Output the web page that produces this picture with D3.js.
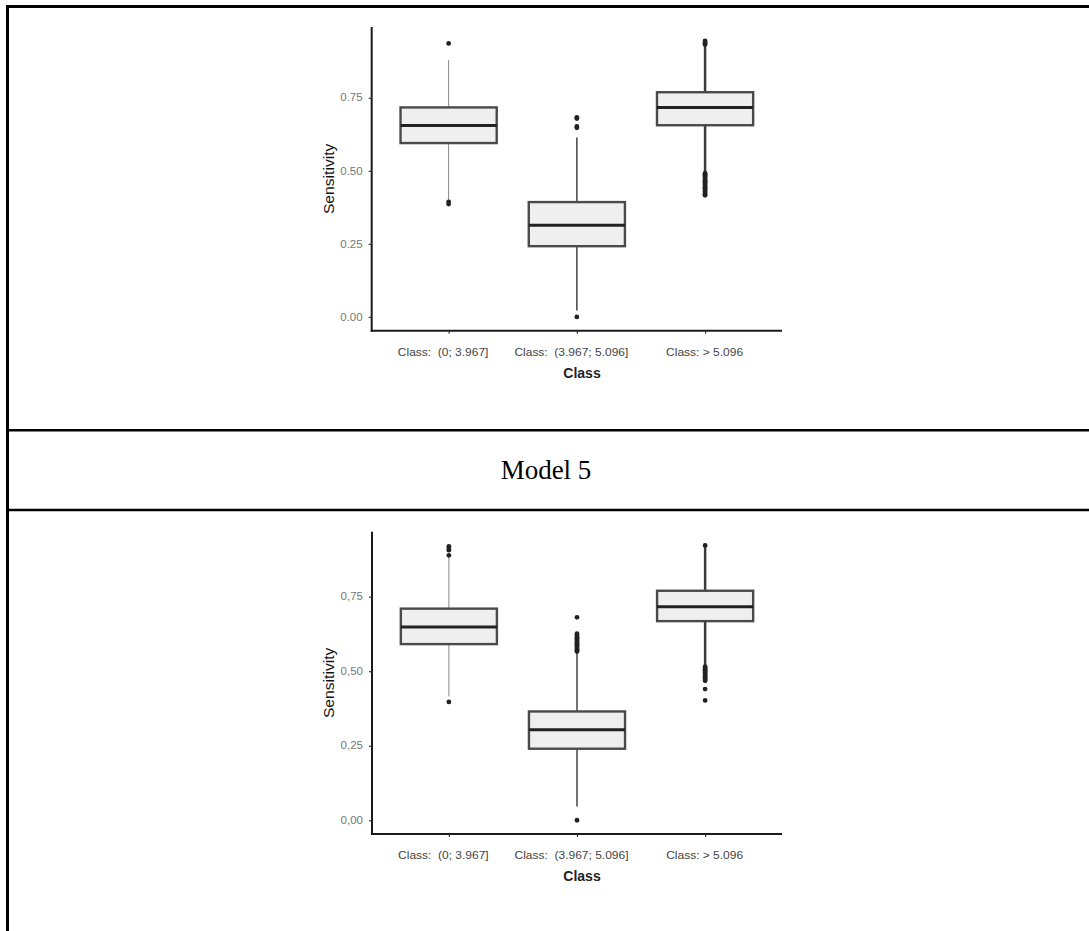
<!DOCTYPE html>
<html>
<head>
<meta charset="utf-8">
<script src="https://cdn.jsdelivr.net/npm/d3@7"></script>
<style>
  html, body { margin: 0; padding: 0; background: #fff; }
  svg { display: block; }
  text { white-space: pre; }
</style>
</head>
<body>
<svg id="chart" width="1089" height="931"></svg>
<script>
// ---------------- DATA ----------------
const categories = ["Class:  (0; 3.967]", "Class:  (3.967; 5.096]", "Class: > 5.096"];
const yTickValues = [0, 0.25, 0.5, 0.75];
const yTickLabelsTop = ["0.00", "0.25", "0.50", "0.75"];
const yTickLabelsBottom = ["0,00", "0,25", "0,50", "0,75"];
const yTitle = "Sensitivity";
const xTitle = "Class";
const sectionTitle = "Model 5";

// Top panel (first model)
const topQ1 = [0.595, 0.242, 0.656];
const topMedian = [0.655, 0.314, 0.717];
const topQ3 = [0.717, 0.393, 0.769];
const topWhiskerLow = [0.400, 0.022, 0.497];
const topWhiskerHigh = [0.879, 0.614, 0.928];
const topOutliers = [
  [0.936, 0.394, 0.386],
  [0.683, 0.679, 0.652, 0.647, 0.0],
  [0.945, 0.940, 0.935, 0.932,
   0.492, 0.488, 0.484, 0.480, 0.476, 0.472, 0.468, 0.464, 0.460, 0.456, 0.452,
   0.448, 0.444, 0.440, 0.436, 0.432, 0.428, 0.424, 0.420, 0.416]
];

// Bottom panel (Model 5)
const botQ1 = [0.591, 0.240, 0.668];
const botMedian = [0.648, 0.304, 0.716];
const botQ3 = [0.710, 0.365, 0.770];
const botWhiskerLow = [0.415, 0.046, 0.519];
const botWhiskerHigh = [0.884, 0.562, 0.917];
const botOutliers = [
  [0.919, 0.912, 0.906, 0.889, 0.397],
  [0.681, 0.626, 0.622, 0.618, 0.614, 0.610, 0.606, 0.602, 0.598, 0.594, 0.590,
   0.586, 0.582, 0.578, 0.574, 0.570, 0.566, 0.0],
  [0.922,
   0.515, 0.511, 0.507, 0.503, 0.499, 0.495, 0.491, 0.487, 0.483, 0.479, 0.475,
   0.471, 0.468, 0.440, 0.402]
];

// ---------------- DRAW ----------------
const svg = d3.select("#chart");
const W = 1089, H = 931;

// table borders
const border = svg.append("g").attr("stroke", "#000").attr("fill", "none");
border.append("line").attr("x1", 7.5).attr("x2", 7.5).attr("y1", 5).attr("y2", H).attr("stroke-width", 3);
border.append("line").attr("x1", 6).attr("x2", W).attr("y1", 6.5).attr("y2", 6.5).attr("stroke-width", 3);
border.append("line").attr("x1", 6).attr("x2", W).attr("y1", 430.3).attr("y2", 430.3).attr("stroke-width", 2.5);
border.append("line").attr("x1", 6).attr("x2", W).attr("y1", 510).attr("y2", 510).attr("stroke-width", 2.5);

svg.append("text")
  .attr("x", 546).attr("y", 470)
  .attr("text-anchor", "middle").attr("dominant-baseline", "central")
  .attr("font-family", "'Liberation Serif', 'Times New Roman', serif")
  .attr("font-size", 27).attr("fill", "#000")
  .text(sectionTitle);

const whiskerWidths = [1, 1.5, 2.5];
const whiskerColors = ["#888", "#444", "#3a3a3a"];

function drawPanel(cfg) {
  const g = svg.append("g");
  const allVals = [].concat(cfg.q1, cfg.q3, cfg.wl, cfg.wh, ...cfg.out);
  const mn = d3.min(allVals), mx = d3.max(allVals);
  const pad = (mx - mn) * 0.05;
  const y = d3.scaleLinear().domain([mn - pad, mx + pad]).range([cfg.bottom, cfg.top]);
  const x = d3.scalePoint().domain(categories).range([cfg.left, cfg.right]).padding(0.6);
  const bw = x.step() * 0.75;

  // y axis
  const yAxis = d3.axisLeft(y).tickValues(yTickValues)
    .tickFormat((d, i) => cfg.tickLabels[i]).tickSize(3).tickSizeOuter(0).tickPadding(4);
  const ya = g.append("g").attr("transform", `translate(${cfg.left},0)`).call(yAxis);
  ya.select(".domain").attr("stroke", "#1a1a1a").attr("stroke-width", 2);
  ya.selectAll(".tick line").attr("stroke", "#333").attr("stroke-width", 1.2);
  ya.selectAll(".tick text")
    .attr("font-family", "'Liberation Sans', Arial, sans-serif")
    .attr("font-size", 10).attr("fill", "#777")
    .attr("transform", function () { const xx = +d3.select(this).attr("x"); return `translate(${xx * 0.15},0) scale(1.15,1)`; });

  // x axis
  const xAxis = d3.axisBottom(x).tickSize(3).tickSizeOuter(0).tickPadding(15);
  const xa = g.append("g").attr("transform", `translate(0,${cfg.bottom})`).call(xAxis);
  xa.select(".domain").attr("stroke", "#1a1a1a").attr("stroke-width", 2);
  xa.selectAll(".tick line").attr("stroke", "#333").attr("stroke-width", 1.2);
  xa.selectAll(".tick text")
    .attr("font-family", "'Liberation Sans', Arial, sans-serif")
    .attr("font-size", 10).attr("fill", "#444")
    .attr("transform", (d, i) => `translate(${[-6, -6, -1][i]},0) scale(1.2,1)`);
  xa.select(".domain").attr("d", `M${cfg.left - 1},0H${cfg.right}`);
  ya.select(".domain").attr("d", `M0,${cfg.top}V${cfg.bottom + 1}`);

  // titles
  g.append("text")
    .attr("transform", `translate(${cfg.left - 38},${(cfg.top + cfg.bottom) / 2}) rotate(-90) scale(1.12,1)`)
    .attr("text-anchor", "middle")
    .attr("font-family", "'Liberation Sans', Arial, sans-serif")
    .attr("font-size", 14).attr("fill", "#111")
    .text(yTitle);
  g.append("text")
    .attr("transform", `translate(582,${cfg.bottom + 47})`)
    .attr("text-anchor", "middle")
    .attr("font-family", "'Liberation Sans', Arial, sans-serif")
    .attr("font-weight", "bold")
    .attr("font-size", 14).attr("fill", "#222")
    .text(xTitle);

  // boxes
  categories.forEach((c, i) => {
    const cx = x(c);
    const bg = g.append("g");
    bg.append("line").attr("x1", cx).attr("x2", cx)
      .attr("y1", y(cfg.wh[i])).attr("y2", y(cfg.q3[i]))
      .attr("stroke", whiskerColors[i]).attr("stroke-width", whiskerWidths[i]);
    bg.append("line").attr("x1", cx).attr("x2", cx)
      .attr("y1", y(cfg.q1[i])).attr("y2", y(cfg.wl[i]))
      .attr("stroke", whiskerColors[i]).attr("stroke-width", whiskerWidths[i]);
    bg.append("rect")
      .attr("x", cx - bw / 2).attr("width", bw)
      .attr("y", y(cfg.q3[i])).attr("height", y(cfg.q1[i]) - y(cfg.q3[i]))
      .attr("fill", "#efefef").attr("stroke", "#4a4a4a").attr("stroke-width", 2.4);
    bg.append("line").attr("x1", cx - bw / 2).attr("x2", cx + bw / 2)
      .attr("y1", y(cfg.med[i])).attr("y2", y(cfg.med[i]))
      .attr("stroke", "#222").attr("stroke-width", 3);
    bg.selectAll("circle").data(cfg.out[i]).join("circle")
      .attr("cx", cx).attr("cy", d => y(d)).attr("r", 2.4).attr("fill", "#222");
  });
}

drawPanel({
  top: 27, bottom: 330.7, left: 371.7, right: 782,
  q1: topQ1, med: topMedian, q3: topQ3, wl: topWhiskerLow, wh: topWhiskerHigh, out: topOutliers,
  tickLabels: yTickLabelsTop
});
drawPanel({
  top: 531.7, bottom: 834, left: 372, right: 782,
  q1: botQ1, med: botMedian, q3: botQ3, wl: botWhiskerLow, wh: botWhiskerHigh, out: botOutliers,
  tickLabels: yTickLabelsBottom
});
</script>
</body>
</html>
